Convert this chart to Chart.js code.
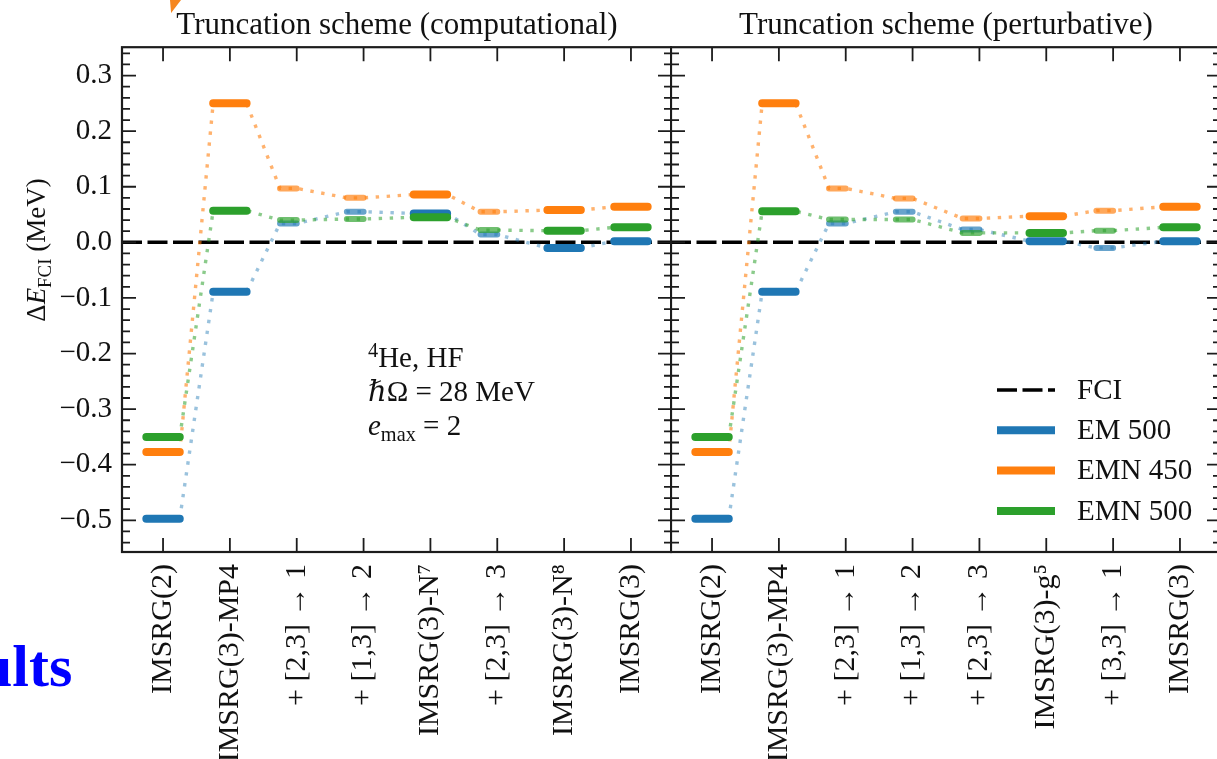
<!DOCTYPE html>
<html>
<head>
<meta charset="utf-8">
<script src="https://cdn.jsdelivr.net/npm/chart.js@4.4.1/dist/chart.umd.min.js"></script>
<style>
  html, body { margin: 0; padding: 0; background: #fff; width: 1217px; height: 759px; overflow: hidden; }
  #left { position: absolute; left: 0; top: 0; }
  #right { position: absolute; left: 670px; top: 0; }
  .slide { position: absolute; left: -21px; top: 636px; font: bold 60px 'Liberation Serif', serif; line-height: 60px; color: #0000ff; white-space: nowrap; }
  .tri { position: absolute; left: 170px; top: 0; width: 11px; height: 13px; background: #f5861f; clip-path: polygon(0 0, 100% 0, 10% 100%); }
</style>
</head>
<body>
<div class="slide">ults</div>
<div class="tri"></div>
<canvas id="left" width="672" height="759"></canvas>
<canvas id="right" width="551" height="759"></canvas>
<script>
// categories of the two truncation schemes
const categoriesComp = ['IMSRG(2)', 'IMSRG(3)-MP4', '+ [2,3] → 1', '+ [1,3] → 2', 'IMSRG(3)-N⁷', '+ [2,3] → 3', 'IMSRG(3)-N⁸', 'IMSRG(3)'];
const categoriesPert = ['IMSRG(2)', 'IMSRG(3)-MP4', '+ [2,3] → 1', '+ [1,3] → 2', '+ [2,3] → 3', 'IMSRG(3)-g⁵', '+ [3,3] → 1', 'IMSRG(3)'];

// ΔE_FCI in MeV, computational scheme
const em500Comp  = [-0.497, -0.089, 0.034, 0.055, 0.052, 0.014, -0.010, 0.002];
const emn450Comp = [-0.377, 0.250, 0.097, 0.080, 0.086, 0.055, 0.058, 0.064];
const emn500Comp = [-0.350, 0.057, 0.040, 0.042, 0.045, 0.022, 0.021, 0.027];

// perturbative scheme
const em500Pert  = [-0.497, -0.089, 0.034, 0.055, 0.023, 0.002, -0.010, 0.002];
const emn450Pert = [-0.377, 0.250, 0.097, 0.079, 0.043, 0.047, 0.057, 0.064];
const emn500Pert = [-0.350, 0.056, 0.041, 0.041, 0.017, 0.017, 0.021, 0.027];

const fciLevel = 0;
const yMajorTicks = [-0.5, -0.4, -0.3, -0.2, -0.1, 0.0, 0.1, 0.2, 0.3];
const seriesNames = ['EM 500', 'EMN 450', 'EMN 500'];
const seriesRgb = ['31,119,180', '255,127,14', '44,160,44'];
const dotAlpha = [0.45, 0.6, 0.55];

const X_MIN = -0.614, X_MAX = 7.614, Y_MIN = -0.557, Y_MAX = 0.351;
const FONT = "'Liberation Serif', 'DejaVu Serif', serif";

Chart.defaults.font.family = FONT;
Chart.defaults.color = '#111';

const isStep = label => label.startsWith('+');
const barEnds = cats => cats.map((c, i) => isStep(c) ? [i - 0.25, i] : [i - 0.25, i + 0.25]);

function barData(cats, vals, step) {
  const ends = barEnds(cats);
  const out = [];
  cats.forEach((c, i) => {
    if (isStep(c) !== step) return;
    out.push({x: ends[i][0], y: vals[i]}, {x: ends[i][1], y: vals[i]}, {x: i + 0.5, y: null});
  });
  return out;
}

function pathData(cats, vals) {
  const ends = barEnds(cats);
  const out = [];
  cats.forEach((c, i) => out.push({x: ends[i][0], y: vals[i]}, {x: ends[i][1], y: vals[i]}));
  return out;
}

function panelDatasets(cats, values) {
  const sets = [{
    label: 'FCI', legend: true, order: 100,
    data: [{x: X_MIN, y: fciLevel}, {x: X_MAX, y: fciLevel}],
    borderColor: '#000', borderWidth: 3.5, borderDash: [20, 5.5]
  }];
  values.forEach((vals, k) => {
    const rgb = seriesRgb[k];
    sets.push({label: seriesNames[k] + ' path', order: 60 - k, data: pathData(cats, vals),
      borderColor: `rgba(${rgb},${dotAlpha[k]})`, borderWidth: 3.4, borderDash: [3.4, 7.6]});
    sets.push({label: seriesNames[k] + ' step', order: 30 - k, data: barData(cats, vals, true),
      borderColor: `rgba(${rgb},0.68)`, borderWidth: 6, borderCapStyle: 'round'});
    sets.push({label: seriesNames[k], legend: true, order: 10 - k, data: barData(cats, vals, false),
      borderColor: `rgb(${rgb})`, borderWidth: 8, borderCapStyle: 'round'});
  });
  return sets;
}

// axes box with inward ticks on all sides
const frameTicks = {
  id: 'frameTicks',
  afterDatasetsDraw(chart) {
    const {ctx, chartArea: a} = chart;
    const x = chart.scales.x, y = chart.scales.y;
    ctx.save();
    ctx.strokeStyle = '#1c1c1c';
    ctx.lineWidth = 1.8;
    ctx.beginPath();
    for (let k = -27; k <= 17; k++) {
      const py = y.getPixelForValue(k * 0.02);
      const len = k % 5 === 0 ? 14 : 8;
      ctx.moveTo(a.left, py); ctx.lineTo(a.left + len, py);
      ctx.moveTo(a.right, py); ctx.lineTo(a.right - len, py);
    }
    x.ticks.forEach(t => {
      const px = x.getPixelForValue(t.value);
      ctx.moveTo(px, a.bottom); ctx.lineTo(px, a.bottom - 14);
      ctx.moveTo(px, a.top); ctx.lineTo(px, a.top + 14);
    });
    ctx.stroke();
    ctx.lineWidth = 2.2;
    ctx.strokeRect(a.left, a.top, a.right - a.left, a.bottom - a.top);
    ctx.restore();
  }
};

// text with sub/superscripts
function drawRich(ctx, x, y, parts, size) {
  let cx = x;
  parts.forEach(p => {
    const s = size * (p.scale || 1);
    ctx.font = `${p.italic ? 'italic ' : ''}${s}px ${FONT}`;
    ctx.fillText(p.t, cx, y + (p.dy || 0) * size);
    cx += ctx.measureText(p.t).width;
  });
}
function richWidth(ctx, parts, size) {
  let w = 0;
  parts.forEach(p => {
    ctx.font = `${p.italic ? 'italic ' : ''}${size * (p.scale || 1)}px ${FONT}`;
    w += ctx.measureText(p.t).width;
  });
  return w;
}

const yTitle = {
  id: 'yTitle',
  afterDraw(chart, args, o) {
    const ctx = chart.ctx;
    const parts = [{t: 'Δ'}, {t: 'E', italic: true}, {t: 'FCI', scale: 0.7, dy: 0.22}, {t: ' (MeV)'}];
    ctx.save();
    ctx.fillStyle = '#111';
    ctx.textBaseline = 'alphabetic';
    ctx.translate(o.x, o.y);
    ctx.rotate(-Math.PI / 2);
    drawRich(ctx, -richWidth(ctx, parts, o.size) / 2, 0, parts, o.size);
    ctx.restore();
  }
};

const noteText = {
  id: 'noteText',
  afterDraw(chart, args, o) {
    const ctx = chart.ctx;
    ctx.save();
    ctx.fillStyle = '#111';
    ctx.textBaseline = 'alphabetic';
    o.lines.forEach((parts, i) => drawRich(ctx, o.x, o.y + i * o.dy, parts, o.size));
    ctx.restore();
  }
};

const boxLegend = {
  id: 'boxLegend',
  afterDraw(chart, args, o) {
    const ctx = chart.ctx;
    ctx.save();
    ctx.textBaseline = 'middle';
    ctx.font = `${o.size}px ${FONT}`;
    chart.data.datasets.filter(d => d.legend).forEach((d, i) => {
      const py = o.y + i * o.dy;
      ctx.strokeStyle = d.borderColor;
      ctx.lineWidth = d.borderWidth;
      ctx.setLineDash(d.borderDash || []);
      ctx.beginPath();
      ctx.moveTo(o.x, py); ctx.lineTo(o.x + 58, py);
      ctx.stroke();
      ctx.fillStyle = '#111';
      ctx.fillText(d.label, o.x + 80, py + 1);
    });
    ctx.restore();
  }
};

function makePanel(id, title, cats, values, showY, padLeft, extraPlugins, extraOptions) {
  return new Chart(document.getElementById(id), {
    type: 'line',
    data: {datasets: panelDatasets(cats, values)},
    options: {
      responsive: false,
      animation: false,
      events: [],
      layout: {padding: {left: padLeft, right: 0, top: 0, bottom: 0}},
      elements: {point: {radius: 0}, line: {tension: 0, fill: false}},
      spanGaps: false,
      scales: {
        x: {
          type: 'linear', min: X_MIN, max: X_MAX,
          afterBuildTicks: s => { s.ticks = cats.map((c, i) => ({value: i})); },
          afterFit: s => { s.height = 207; s.paddingLeft = 0; s.paddingRight = 0; },
          grid: {display: false, drawTicks: false},
          border: {display: false},
          ticks: {autoSkip: false, minRotation: 90, maxRotation: 90, padding: 12,
                  font: {size: 30}, callback: v => cats[Math.round(v)]}
        },
        y: {
          type: 'linear', min: Y_MIN, max: Y_MAX, display: showY,
          afterBuildTicks: s => { s.ticks = yMajorTicks.map(v => ({value: v})); },
          afterFit: s => { s.width = showY ? 122 : 0; s.paddingTop = 0; s.paddingBottom = 0; },
          grid: {display: false, drawTicks: false},
          border: {display: false},
          ticks: {padding: 10, font: {size: 29},
                  callback: v => (v < -1e-9 ? '−' : '') + Math.abs(v).toFixed(1)}
        }
      },
      plugins: Object.assign({
        legend: {display: false},
        tooltip: {enabled: false},
        title: {display: true, text: title, fullSize: false, color: '#111',
                font: {size: 31, weight: 'normal'}, padding: {top: 7, bottom: 3}}
      }, extraOptions)
    },
    plugins: [frameTicks].concat(extraPlugins)
  });
}

makePanel('left', 'Truncation scheme (computational)', categoriesComp,
  [em500Comp, emn450Comp, emn500Comp], true, 0, [yTitle, noteText], {
    yTitle: {x: 45, y: 250, size: 27},
    noteText: {x: 368, y: 367, dy: 34, size: 29, lines: [
      [{t: '4', scale: 0.7, dy: -0.36}, {t: 'He, HF'}],
      [{t: 'ℏΩ = 28 MeV'}],
      [{t: 'e', italic: true}, {t: 'max', scale: 0.7, dy: 0.2}, {t: ' = 2'}]
    ]}
  });

makePanel('right', 'Truncation scheme (perturbative)', categoriesPert,
  [em500Pert, emn450Pert, emn500Pert], false, 1, [boxLegend], {
    boxLegend: {x: 327, y: 390, dy: 40.3, size: 29}
  });
</script>
</body>
</html>
